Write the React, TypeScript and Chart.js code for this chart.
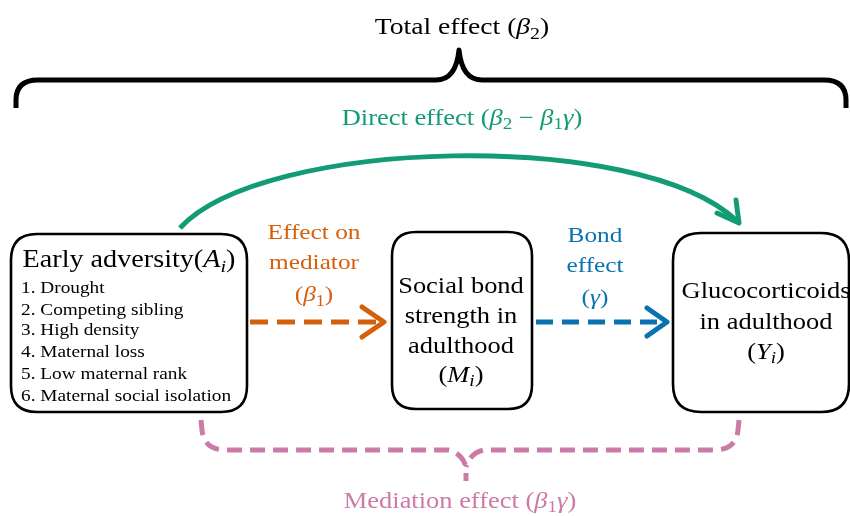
import React, { useEffect, useRef } from "react";
import { Chart, registerables } from "chart.js";
Chart.register(...registerables);

// Segment style codes: 0 roman, 1 italic, 2 roman subscript, 3 italic subscript
type Seg = [string, number];

const totalLabel: Seg[] = [["Total effect (", 0], ["β", 1], ["2", 2], [")", 0]];
const directLabel: Seg[] = [["Direct effect (", 0], ["β", 1], ["2", 2], [" − ", 0], ["β", 1], ["1", 2], ["γ", 1], [")", 0]];
const mediationLabel: Seg[] = [["Mediation effect (", 0], ["β", 1], ["1", 2], ["γ", 1], [")", 0]];
const adversityTitle: Seg[] = [["Early adversity(", 0], ["A", 1], ["i", 3], [")", 0]];
const adversityItems: string[] = [
  "1. Drought",
  "2. Competing sibling",
  "3. High density",
  "4. Maternal loss",
  "5. Low maternal rank",
  "6. Maternal social isolation",
];
const mediatorLines: Seg[][] = [
  [["Social bond", 0]],
  [["strength in", 0]],
  [["adulthood", 0]],
  [["(", 0], ["M", 1], ["i", 3], [")", 0]],
];
const outcomeLines: Seg[][] = [
  [["Glucocorticoids", 0]],
  [["in adulthood", 0]],
  [["(", 0], ["Y", 1], ["i", 3], [")", 0]],
];
const effectOnMediator: Seg[][] = [
  [["Effect on", 0]],
  [["mediator", 0]],
  [["(", 0], ["β", 1], ["1", 2], [")", 0]],
];
const bondEffect: Seg[][] = [
  [["Bond", 0]],
  [["effect", 0]],
  [["(", 0], ["γ", 1], [")", 0]],
];

const GREEN = "#129b74";
const ORANGE = "#d5600b";
const BLUE = "#0a72b0";
const PINK = "#cc7aa8";
const FF = '"Liberation Serif", "DejaVu Serif", serif';
const STRETCH = 1.15;

function fontFor(style: number, size: number) {
  const italic = style === 1 || style === 3;
  const sub = style >= 2;
  return (italic ? "italic " : "") + (sub ? size * 0.72 : size).toFixed(1) + "px " + FF;
}

function drawRich(ctx: CanvasRenderingContext2D, segs: Seg[], x: number, y: number, size: number, color: string, align: "center" | "left") {
  let total = 0;
  const widths = segs.map(([t, s]) => {
    ctx.font = fontFor(s, size);
    const w = ctx.measureText(t).width;
    total += w;
    return w;
  });
  ctx.save();
  ctx.translate(x, 0);
  ctx.scale(STRETCH, 1);
  let cx = align === "center" ? -total / 2 : 0;
  const base = y + size * 0.33;
  ctx.fillStyle = color;
  ctx.textBaseline = "alphabetic";
  ctx.textAlign = "left";
  segs.forEach(([t, s], i) => {
    ctx.font = fontFor(s, size);
    ctx.fillText(t, cx, s >= 2 ? base + size * 0.2 : base);
    cx += widths[i];
  });
  ctx.restore();
}

function roundRect(ctx: CanvasRenderingContext2D, x0: number, y0: number, x1: number, y1: number, r: number) {
  ctx.beginPath();
  ctx.moveTo(x0 + r, y0);
  ctx.lineTo(x1 - r, y0);
  ctx.quadraticCurveTo(x1, y0, x1, y0 + r);
  ctx.lineTo(x1, y1 - r);
  ctx.quadraticCurveTo(x1, y1, x1 - r, y1);
  ctx.lineTo(x0 + r, y1);
  ctx.quadraticCurveTo(x0, y1, x0, y1 - r);
  ctx.lineTo(x0, y0 + r);
  ctx.quadraticCurveTo(x0, y0, x0 + r, y0);
  ctx.closePath();
  ctx.stroke();
}

const diagramPlugin = {
  id: "diagram",
  afterDraw(chart: any) {
    const ctx: CanvasRenderingContext2D = chart.ctx;
    const sx = chart.scales.x;
    const sy = chart.scales.y;
    const X = (v: number) => sx.getPixelForValue(v);
    const Y = (v: number) => sy.getPixelForValue(v);
    ctx.save();
    ctx.lineCap = "butt";
    ctx.lineJoin = "round";

    // Top brace
    ctx.strokeStyle = "#000";
    ctx.lineWidth = 5;
    ctx.setLineDash([]);
    ctx.beginPath();
    ctx.moveTo(X(16), Y(108));
    ctx.lineTo(X(16), Y(100));
    ctx.quadraticCurveTo(X(16), Y(80), X(38), Y(80));
    ctx.lineTo(X(436), Y(80));
    ctx.quadraticCurveTo(X(456), Y(80), X(459), Y(50));
    ctx.quadraticCurveTo(X(462), Y(80), X(482), Y(80));
    ctx.lineTo(X(824), Y(80));
    ctx.quadraticCurveTo(X(846), Y(80), X(846), Y(100));
    ctx.lineTo(X(846), Y(108));
    ctx.stroke();

    drawRich(ctx, totalLabel, X(462), Y(26), 24, "#000", "center");
    drawRich(ctx, directLabel, X(462), Y(117), 23, GREEN, "center");

    // Green curved arrow
    ctx.strokeStyle = GREEN;
    ctx.lineWidth = 5;
    ctx.beginPath();
    ctx.moveTo(X(180), Y(228));
    ctx.bezierCurveTo(X(262), Y(138), X(640), Y(128), X(737), Y(221));
    ctx.stroke();
    ctx.lineCap = "round";
    ctx.beginPath();
    ctx.moveTo(X(717), Y(213));
    ctx.lineTo(X(739), Y(223));
    ctx.lineTo(X(736), Y(200));
    ctx.stroke();
    ctx.lineCap = "butt";

    // Boxes
    ctx.strokeStyle = "#000";
    ctx.lineWidth = 2.6;
    roundRect(ctx, X(11), Y(234), X(247), Y(412), 26);
    roundRect(ctx, X(392), Y(232), X(532), Y(409), 24);
    roundRect(ctx, X(673), Y(233), X(849), Y(412), 28);

    drawRich(ctx, adversityTitle, X(129), Y(259), 24.5, "#000", "center");
    const itemY = [287, 309, 329, 351, 373, 395];
    adversityItems.forEach((t, i) => drawRich(ctx, [[t, 0]], X(21), Y(itemY[i]), 16.8, "#000", "left"));

    const mY = [285, 315, 345, 374];
    mediatorLines.forEach((l, i) => drawRich(ctx, l, X(461), Y(mY[i]), 23, "#000", "center"));
    const oY = [290, 321, 351];
    outcomeLines.forEach((l, i) => drawRich(ctx, l, X(766), Y(oY[i]), 23, "#000", "center"));
    const eY = [232, 262, 294];
    effectOnMediator.forEach((l, i) => drawRich(ctx, l, X(314), Y(eY[i]), 22, ORANGE, "center"));
    const bY = [235, 265, 297];
    bondEffect.forEach((l, i) => drawRich(ctx, l, X(595), Y(bY[i]), 22, BLUE, "center"));

    // Orange dashed arrow
    ctx.lineWidth = 5;
    ctx.strokeStyle = ORANGE;
    ctx.setLineDash([18, 9]);
    ctx.beginPath();
    ctx.moveTo(X(250), Y(322));
    ctx.lineTo(X(380), Y(322));
    ctx.stroke();
    ctx.setLineDash([]);
    ctx.lineCap = "round";
    ctx.beginPath();
    ctx.moveTo(X(362), Y(307));
    ctx.lineTo(X(384), Y(322));
    ctx.lineTo(X(362), Y(337));
    ctx.stroke();
    ctx.lineCap = "butt";

    // Blue dashed arrow
    ctx.strokeStyle = BLUE;
    ctx.setLineDash([17, 9]);
    ctx.beginPath();
    ctx.moveTo(X(536), Y(322));
    ctx.lineTo(X(663), Y(322));
    ctx.stroke();
    ctx.setLineDash([]);
    ctx.lineCap = "round";
    ctx.beginPath();
    ctx.moveTo(X(647), Y(308));
    ctx.lineTo(X(667), Y(322));
    ctx.lineTo(X(647), Y(336));
    ctx.stroke();
    ctx.lineCap = "butt";

    // Pink dashed bracket
    ctx.strokeStyle = PINK;
    ctx.lineWidth = 5;
    ctx.setLineDash([15, 8]);
    ctx.beginPath();
    ctx.moveTo(X(201), Y(420));
    ctx.lineTo(X(202), Y(430));
    ctx.quadraticCurveTo(X(204), Y(450), X(226), Y(450));
    ctx.lineTo(X(448), Y(450));
    ctx.quadraticCurveTo(X(462), Y(453), X(466), Y(467));
    ctx.lineTo(X(466), Y(481));
    ctx.stroke();
    ctx.beginPath();
    ctx.moveTo(X(739), Y(420));
    ctx.lineTo(X(738), Y(430));
    ctx.quadraticCurveTo(X(736), Y(450), X(714), Y(450));
    ctx.lineTo(X(484), Y(450));
    ctx.quadraticCurveTo(X(470), Y(453), X(466), Y(467));
    ctx.stroke();
    ctx.setLineDash([]);

    drawRich(ctx, mediationLabel, X(460), Y(500), 23, PINK, "center");
    ctx.restore();
  },
};

export default function App() {
  const ref = useRef<HTMLCanvasElement | null>(null);
  useEffect(() => {
    document.body.style.margin = "0";
    const canvas = ref.current!;
    const chart = new Chart(canvas, {
      type: "scatter",
      data: { datasets: [{ data: [], pointRadius: 0 }] },
      options: {
        responsive: false,
        animation: false,
        devicePixelRatio: 1,
        layout: { padding: 0 },
        plugins: { legend: { display: false }, tooltip: { enabled: false } },
        scales: {
          x: { type: "linear", min: 0, max: 850, display: false },
          y: { type: "linear", min: 0, max: 516, reverse: true, display: false },
        },
      },
      plugins: [diagramPlugin],
    } as any);
    return () => chart.destroy();
  }, []);
  return (
    <div style={{ width: 850, height: 516, background: "#fff" }}>
      <canvas ref={ref} width={850} height={516} />
    </div>
  );
}
